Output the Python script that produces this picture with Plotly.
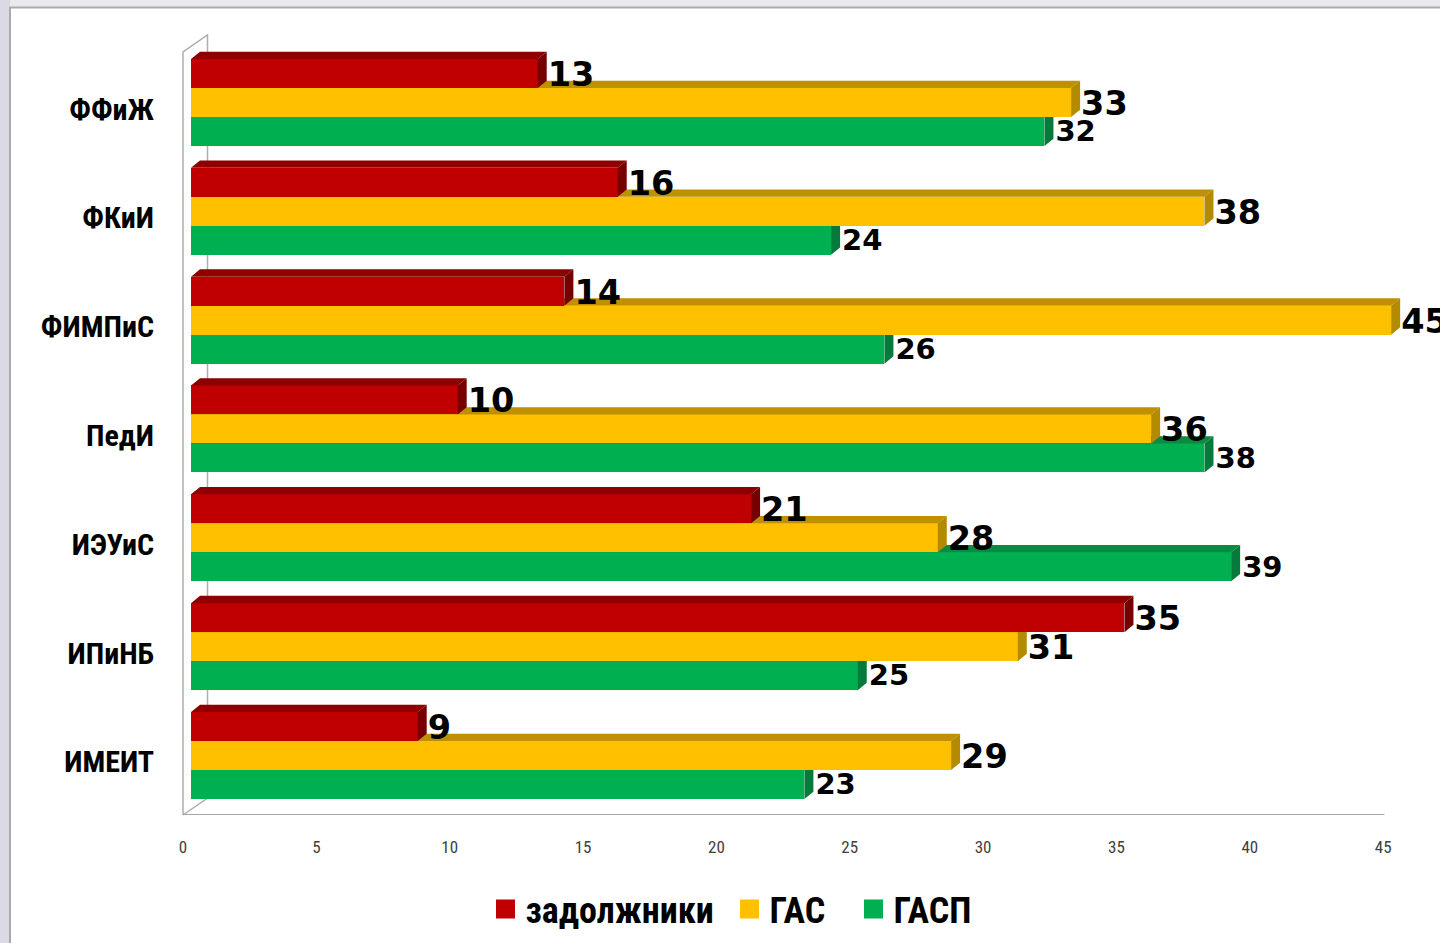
import plotly.graph_objects as go

# ---- data ----
categories = ["ФФиЖ", "ФКиИ", "ФИМПиС", "ПедИ", "ИЭУиС", "ИПиНБ", "ИМЕИТ"]
debtors = [13, 16, 14, 10, 21, 35, 8.5]
gas = [33, 38, 45, 36, 28, 31, 28.5]
gasp = [32, 24, 26, 38, 39, 25, 23]
debtors_labels = ["13", "16", "14", "10", "21", "35", "9"]
gas_labels = ["33", "38", "45", "36", "28", "31", "29"]
gasp_labels = ["32", "24", "26", "38", "39", "25", "23"]
x_ticks = [0, 5, 10, 15, 20, 25, 30, 35, 40, 45]

# ---- geometry (pixels of the 1440x943 page) ----
W, H = 1440, 943
PLOT_L, PLOT_B = 183, 815
PX_PER_X, PX_PER_Y = 26.67, 108.83
ZERO_PX, FIRST_CENTER_PX = 191, 102.5
BAR_H = 29 / PX_PER_Y
DEPTH_X, DEPTH_Y = 9 / PX_PER_X, 7.3 / PX_PER_Y
BLACK = "#000000"
BOLD_NARROW = "Roboto Condensed"

fig = go.Figure()


def xa(n):
    return "x" if n == 1 else f"x{n}"


def ya(n):
    return "y" if n == 1 else f"y{n}"


def add_series(values, name, row_offset, front, top, side, axis_n):
    ys = [i + row_offset for i in range(len(values))]
    fig.add_trace(go.Bar(
        y=ys, x=values, orientation="h", width=BAR_H, name=name,
        marker=dict(color=front, line=dict(width=0)), showlegend=False,
        hoverinfo="skip", xaxis=xa(axis_n), yaxis=ya(axis_n)))
    tx, ty, sx, sy = [], [], [], []
    for v, c in zip(values, ys):
        t, b = c - BAR_H / 2, c + BAR_H / 2
        tx += [0, v, v + DEPTH_X, DEPTH_X, 0, None]
        ty += [t, t, t - DEPTH_Y, t - DEPTH_Y, t, None]
        sx += [v, v + DEPTH_X, v + DEPTH_X, v, v, None]
        sy += [t, t - DEPTH_Y, b - DEPTH_Y, b, t, None]
    for px_, py_, col in ((tx, ty, top), (sx, sy, side)):
        fig.add_trace(go.Scatter(
            x=px_, y=py_, mode="lines", fill="toself", fillcolor=col,
            line=dict(width=0, color=col), showlegend=False, hoverinfo="skip",
            xaxis=xa(axis_n), yaxis=ya(axis_n)))
    return ys


y_span = [(PLOT_B - FIRST_CENTER_PX) / PX_PER_Y, -FIRST_CENTER_PX / PX_PER_Y]

# floor line on the main (tick-carrying) axes
fig.add_trace(go.Scatter(
    x=[0, x_ticks[-1] + 0.05], y=[y_span[0], y_span[0]], mode="lines",
    line=dict(color="#A6A6A6", width=2), showlegend=False, hoverinfo="skip",
    cliponaxis=False))

y_gasp = add_series(gasp, "ГАСП", BAR_H, "#00B050", "#0C8A43", "#067A3A", 2)
y_gas = add_series(gas, "ГАС", 0, "#FFC000", "#BF9000", "#B38A00", 3)
y_debt = add_series(debtors, "задолжники", -BAR_H, "#C00000", "#8E0000", "#760000", 4)


def add_labels(values, labels, ys, size, dx_px, dy_px):
    fig.add_trace(go.Scatter(
        x=[v + DEPTH_X + dx_px / PX_PER_X for v in values],
        y=[c + dy_px / PX_PER_Y for c in ys], mode="text",
        text=labels, textposition="middle right",
        textfont=dict(family="DejaVu Sans", size=size, color=BLACK, weight="bold"),
        showlegend=False, hoverinfo="skip", cliponaxis=False,
        xaxis="x5", yaxis="y5"))


add_labels(debtors, debtors_labels, y_debt, 33.5, 1, 4)
add_labels(gas, gas_labels, y_gas, 33.5, 1, 4)
add_labels(gasp, gasp_labels, y_gasp, 29, 2, 2.5)

# legend entries, one legend per entry so each can sit at its own place
legend_items = [("задолжники", "#C00000", "legend", 485.5),
                ("ГАС", "#FFC000", "legend2", 729.5),
                ("ГАСП", "#00B050", "legend3", 853.5)]
for name, col, leg, _ in legend_items:
    fig.add_trace(go.Scatter(
        x=[None], y=[None], mode="markers", name=name, legend=leg,
        marker=dict(symbol="square", size=16, color=col, line=dict(color=col, width=3)),
        xaxis="x5", yaxis="y5"))


def fx(px):
    return (px - PLOT_L) / (W - PLOT_L)


def fy(py):
    return (PLOT_B - py) / PLOT_B


def rect(x0, y0, x1, y1, color):
    return dict(type="rect", xref="paper", yref="paper", x0=fx(x0), x1=fx(x1),
                y0=fy(y0), y1=fy(y1), fillcolor=color, line=dict(width=0), layer="below")


def line(points, color, width=1.5):
    d = "M" + " L".join(f"{fx(a)},{fy(b)}" for a, b in points)
    return dict(type="path", xref="paper", yref="paper", path=d,
                line=dict(color=color, width=width), layer="below")


WALL = "#AEAEAE"
shapes = [
    rect(0, 0, W, 8, "#E9E9EE"),
    rect(0, 0, 10, H, "#DADAE4"),
    line([(10, H), (10, 7.5), (W, 7.5)], "#ABABAB", 2),
    line([(183, 815), (183, 52), (207.5, 35), (207.5, 798), (183, 815)], WALL, 1.5),
]

x_span_ticks = [0, (W - PLOT_L) / PX_PER_X]
x_span_data = [(PLOT_L - ZERO_PX) / PX_PER_X, (W - ZERO_PX) / PX_PER_X]

layout = dict(
    width=W, height=H, autosize=False,
    margin=dict(l=PLOT_L, r=0, t=0, b=H - PLOT_B, pad=0),
    paper_bgcolor="#FFFFFF", plot_bgcolor="rgba(0,0,0,0)",
    font=dict(family="Liberation Sans"),
    shapes=shapes, bargap=0, showlegend=True,
    xaxis=dict(range=x_span_ticks, tickvals=x_ticks, ticktext=[str(t) for t in x_ticks],
               showgrid=False, zeroline=False, showline=False, ticks="",
               ticklabelstandoff=20,
               tickfont=dict(family=BOLD_NARROW, size=17, color="#404040")),
    yaxis=dict(range=y_span, tickvals=[i + 6.5 / PX_PER_Y for i in range(len(categories))],
               ticktext=categories, showgrid=False, zeroline=False, showline=False,
               ticks="", ticklabelstandoff=28,
               tickfont=dict(family=BOLD_NARROW, size=30, color=BLACK, weight="bold")),
)
for name, col, leg, left in legend_items:
    layout[leg] = dict(
        orientation="h", x=fx(left), xanchor="left", y=fy(909), yanchor="middle",
        font=dict(family=BOLD_NARROW, size=36, color=BLACK, weight="bold"),
        bgcolor="rgba(0,0,0,0)", itemwidth=30)
for n in (2, 3, 4, 5):
    layout[f"xaxis{n}"] = dict(range=x_span_data, overlaying="x", anchor=f"y{n}", visible=False)
    layout[f"yaxis{n}"] = dict(range=y_span, overlaying="y", anchor=f"x{n}", visible=False)
fig.update_layout(**layout)

fig.write_html("out.html", config={"displayModeBar": False},
               post_script="document.body.style.margin='0';document.body.style.overflow='hidden';")
